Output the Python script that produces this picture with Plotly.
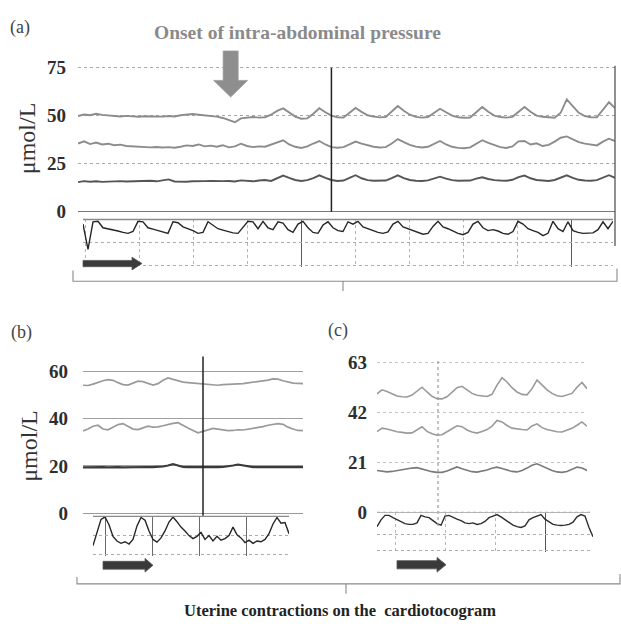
import plotly.graph_objects as go

W, H = 621, 634

# ---------------- panel (a): lactate (umol/L) and uterine pressure ----------------
a_ticks = [0, 25, 50, 75]
a_onset = 25.3          # sample index where intra-abdominal pressure starts
a_marker = 42           # sample index of the vertical reference line

a_upper = [49.8, 50.6, 50.2, 51.0, 50.4, 50.1, 49.8, 49.6, 49.9, 49.5,
           49.4, 49.7, 49.6, 49.3, 49.5, 49.8, 49.6, 50.2, 50.6, 50.9,
           50.5, 50.3, 49.9, 49.5, 48.8, 47.5, 46.6, 48.6, 48.9, 49.3,
           49.0, 49.2, 50.5, 52.5, 53.8, 51.5, 49.5, 48.4, 48.6, 51.0,
           53.9, 51.8, 50.0, 49.2, 49.0, 51.5, 54.0, 52.0, 50.2, 49.5,
           49.1, 49.3, 52.0, 55.0, 52.6, 50.5, 49.4, 49.0, 49.3, 51.5,
           53.6, 51.8, 50.0, 49.2, 48.9, 49.0, 51.5, 54.5, 52.0, 50.0,
           49.3, 49.0, 49.4, 52.0, 54.5, 52.0, 50.0, 49.4, 49.0, 48.9,
           51.5, 58.5, 55.0, 51.5, 49.8, 49.2, 49.1, 53.0, 57.0, 54.0]
a_middle = [35.5, 36.6, 35.2, 36.0, 35.0, 35.4, 34.6, 34.9, 34.2, 34.0,
            33.8, 33.9, 33.5, 33.7, 33.4, 33.6, 33.3, 33.8, 34.5, 34.2,
            35.0, 34.0, 34.4, 33.8, 34.6, 33.5, 34.0, 35.4, 34.2, 33.6,
            34.0, 33.8, 35.0, 35.8, 37.2, 35.0, 33.8, 33.2, 34.0, 35.5,
            36.8, 35.0, 33.6, 33.3, 33.6, 35.0, 36.5, 35.4, 34.5, 33.8,
            33.4, 33.6, 35.5, 37.8, 36.2, 34.8, 33.9, 33.4, 33.8, 35.5,
            36.8, 35.0, 33.8, 33.2, 33.0, 33.5, 35.5, 37.2, 35.8, 34.6,
            33.6, 33.2, 34.0, 36.6, 36.8, 35.0, 35.6, 34.2, 34.8, 36.5,
            38.5, 39.2, 37.6, 36.2, 35.4, 34.8, 34.5, 36.5, 38.0, 36.8]
a_lower = [15.4, 15.9, 15.6, 15.8, 15.5, 15.7, 15.6, 15.9, 15.7, 15.8,
           16.0, 15.9, 16.1, 15.8, 16.4, 16.8, 15.7, 15.5, 15.6, 15.8,
           15.7, 15.9, 16.0, 15.8, 15.9, 16.0, 15.7, 16.3, 16.0, 15.8,
           16.2, 16.5, 16.0, 17.4, 18.8, 17.6, 16.5, 16.0, 16.4, 17.5,
           18.9, 17.6, 16.5, 16.0, 16.2, 17.6, 19.0, 17.4, 16.4, 16.1,
           16.0, 16.2, 17.5, 18.9, 17.5, 16.5, 16.1, 16.0, 16.3, 17.4,
           18.2, 17.2, 16.4, 16.1, 16.0, 16.2, 17.2, 17.9, 17.0, 16.4,
           16.2, 16.1, 16.6, 18.0, 18.8, 17.4, 16.5, 16.2, 16.0, 16.5,
           17.6, 18.9, 17.6, 16.6, 16.2, 16.1, 16.4, 17.8, 19.0, 17.6]
a_ctg = [90, 35, 95, 96, 82, 80, 77, 75, 72, 70,
         74, 96, 95, 82, 79, 76, 72, 70, 95, 93,
         84, 80, 76, 70, 72, 95, 88, 80, 77, 74,
         71, 70, 82, 96, 95, 80, 96, 82, 78, 95,
         92, 78, 72, 90, 96, 82, 72, 70, 88, 95,
         82, 76, 74, 95, 90, 96, 84, 80, 75, 72,
         70, 73, 90, 96, 84, 80, 76, 72, 68, 70,
         85, 96, 84, 80, 75, 70, 67, 72, 90, 96,
         82, 76, 78, 75, 70, 68, 74, 96, 90, 80,
         76, 72, 65, 70, 96, 80, 74, 95, 76, 72,
         70, 70, 71, 78, 95, 80, 96]

# ---------------- panel (b) ----------------
b_ticks = [0, 20, 40, 60]
b_marker = 24
b_upper = [54.1, 54.0, 54.6, 55.4, 56.0, 56.5, 56.2, 55.2, 54.4, 54.2,
           55.0, 55.8, 55.6, 54.8, 54.2, 54.8, 56.2, 57.2, 56.6, 55.8,
           55.4, 55.2, 55.0, 54.6, 54.4, 54.2, 54.0, 54.1, 54.4, 54.5,
           54.6, 54.5, 54.8, 55.1, 55.4, 55.6, 55.8, 56.3, 56.8, 56.7,
           56.0, 55.4, 55.0, 54.9, 54.8]
b_middle = [34.8, 35.6, 36.8, 37.2, 35.6, 35.3, 36.4, 37.5, 37.9, 36.6,
            35.6, 35.4, 36.2, 36.8, 36.4, 36.5, 37.0, 37.6, 38.0, 38.3,
            37.0, 36.0, 35.0, 34.0, 34.6, 35.4, 35.9, 35.6, 35.2, 34.9,
            35.0, 35.3, 35.2, 35.5, 35.9, 36.2, 36.6, 37.2, 37.6, 37.9,
            37.6, 36.4, 35.6, 35.0, 34.9]
b_lower = [19.4, 19.5, 19.3, 19.4, 19.5, 19.4, 19.6, 19.5, 19.4, 19.5,
           19.6, 19.5, 19.7, 19.6, 19.5, 19.6, 19.8, 20.2, 20.8, 20.2,
           19.6, 19.5, 19.4, 19.5, 19.6, 19.5, 19.4, 19.5, 19.6, 19.8,
           20.2, 20.6, 20.3, 19.8, 19.5, 19.6, 19.5, 19.4, 19.5, 19.6,
           19.5, 19.4, 19.5, 19.6, 19.5]
b_ctg = [24, 55, 92, 98, 78, 48, 36, 30, 34, 28,
         40, 75, 97, 90, 62, 40, 33, 44, 62, 85,
         98, 86, 72, 62, 50, 42, 48, 58, 40, 50,
         36, 48, 38, 42, 50, 72, 52, 44, 32, 38,
         30, 36, 34, 40, 55, 80, 97, 82, 84, 55]

# ---------------- panel (c) ----------------
c_ticks = [0, 21, 42, 63]
c_marker = 12.2
c_upper = [49.8, 51.5, 50.8, 49.8, 48.9, 48.6, 48.5, 49.3, 51.0, 52.6,
           50.6, 48.8, 47.8, 47.7, 48.6, 50.4, 52.4, 53.0, 51.6, 50.0,
           49.2, 48.8, 48.7, 49.6, 53.5, 56.6, 54.8, 52.4, 50.6, 49.6,
           49.4, 52.0, 55.6, 53.6, 51.5, 50.0, 49.0, 48.7, 49.4, 50.0,
           52.6, 54.6, 52.0]
c_middle = [33.9, 35.4, 35.0, 34.4, 33.9, 33.6, 33.3, 33.4, 34.6, 36.0,
            34.0, 33.0, 32.4, 32.6, 33.9, 35.2, 36.4, 36.0, 34.6, 33.8,
            33.3, 34.0, 34.8, 36.2, 38.6, 38.0, 36.5, 35.4, 35.0, 34.8,
            34.6, 36.3, 37.2, 35.6, 34.8, 34.2, 33.9, 33.8, 34.6, 35.3,
            36.6, 38.0, 36.2]
c_lower = [17.6, 17.2, 17.0, 17.2, 17.6, 17.8, 18.2, 18.6, 18.8, 18.2,
           17.6, 17.1, 16.8, 16.8, 17.4, 18.3, 19.1, 18.3, 17.6, 17.1,
           16.9, 17.2, 17.8, 18.5, 19.0, 18.4, 17.8, 17.2, 17.0, 17.6,
           18.6, 19.8, 20.4, 19.4, 18.4, 17.6, 17.0, 16.8, 17.2, 18.0,
           19.0, 18.6, 17.6]
c_ctg = [62, 80, 92, 92, 86, 80, 74, 70, 68, 68,
         72, 92, 88, 86, 78, 70, 66, 90, 92, 86,
         82, 78, 72, 70, 72, 68, 70, 76, 86, 90,
         94, 88, 80, 72, 66, 62, 60, 64, 80, 86,
         90, 94, 82, 74, 68, 66, 65, 66, 68, 74,
         88, 94, 90, 60, 35]

# ---------------- helpers: pixel -> paper ----------------
def px(x):
    return x / W


def py(y):
    return 1 - y / H


def xdom(left, right):
    return [px(left), px(right)]


def ydom(top, bottom):
    return [py(bottom), py(top)]


SERIF = "Liberation Serif, Times New Roman, serif"
tick_font = dict(family=SERIF, size=19, color="#2e2e2e", weight="bold")

fig = go.Figure()


def idx(series):
    return list(range(len(series)))


def add_line(series, xa, ya, color, width):
    fig.add_trace(go.Scatter(x=idx(series), y=series, xaxis=xa, yaxis=ya,
                             mode="lines", line=dict(color=color, width=width),
                             hoverinfo="skip", showlegend=False))


# panel (a)
add_line(a_upper, "x", "y", "#8c8c8c", 1.9)
add_line(a_middle, "x", "y", "#8c8c8c", 1.9)
add_line(a_lower, "x", "y", "#555555", 1.9)
add_line(a_ctg, "x2", "y2", "#262626", 1.4)
# panel (b)
add_line(b_upper, "x3", "y3", "#9a9a9a", 1.7)
add_line(b_middle, "x3", "y3", "#9a9a9a", 1.7)
add_line(b_lower, "x3", "y3", "#3a3a3a", 2.1)
add_line(b_ctg, "x4", "y4", "#262626", 1.4)
# panel (c)
add_line(c_upper, "x5", "y5", "#9a9a9a", 1.6)
add_line(c_middle, "x5", "y5", "#9a9a9a", 1.6)
add_line(c_lower, "x5", "y5", "#7a7a7a", 1.6)
add_line(c_ctg, "x6", "y6", "#2e2e2e", 1.4)

hidden_x = dict(showticklabels=False, ticks="", zeroline=False, showline=False,
                showgrid=False, fixedrange=True)


def lactate_y(dom, rng, ticks, standoff, gridcolor, griddash, zerocolor):
    return dict(domain=dom, range=rng, tickmode="array", tickvals=ticks,
                ticktext=[str(t) for t in ticks], tickfont=tick_font,
                ticks="", ticklabelstandoff=standoff, showgrid=True,
                gridcolor=gridcolor, gridwidth=1, griddash=griddash,
                zeroline=True, zerolinecolor=zerocolor, zerolinewidth=1.3,
                showline=False, fixedrange=True)


def ctg_y(dom, ticks, dash):
    return dict(domain=dom, range=[-4, 100], tickmode="array", tickvals=ticks,
                showticklabels=False, ticks="", showgrid=True,
                gridcolor="#ababab", gridwidth=1, griddash=dash,
                zeroline=False, showline=False, fixedrange=True)


layout = dict(
    width=W, height=H, margin=dict(l=0, r=0, t=0, b=0),
    paper_bgcolor="white", plot_bgcolor="rgba(0,0,0,0)", showlegend=False,
    font=dict(family=SERIF, color="#333"),
    # (a) lactate
    xaxis=dict(hidden_x, domain=xdom(78, 615), range=[0, len(a_upper) - 1], anchor="y"),
    yaxis=lactate_y(ydom(212 - 78 * 1.96, 212 + 1.96), [-1, 78], a_ticks, 11,
                    "#a8a8a8", "dot", "#7a7a7a"),
    # (a) cardiotocogram
    xaxis2=dict(hidden_x, domain=xdom(83, 613), range=[0, len(a_ctg) - 1], anchor="y2",
                showgrid=True, tickmode="linear", tick0=43.6, dtick=54,
                gridcolor="#5a5a5a", gridwidth=1.2,
                minor=dict(tickmode="linear", tick0=0.4, dtick=10.8, showgrid=True,
                           gridcolor="#b4b4b4", griddash="dot", gridwidth=1)),
    yaxis2=dict(ctg_y(ydom(220, 269), [0, 50], "dot"), anchor="x2"),
    # (b) lactate
    xaxis3=dict(hidden_x, domain=xdom(83, 303), range=[0, len(b_upper) - 1], anchor="y3"),
    yaxis3=dict(lactate_y(ydom(360, 522.4), [-1, 66.2], b_ticks, 14,
                          "#a0a0a0", "solid", "#9a9a9a"), anchor="x3"),
    # (b) cardiotocogram
    xaxis4=dict(hidden_x, domain=xdom(93, 289), range=[0, len(b_ctg) - 1], anchor="y4",
                showgrid=True, tickmode="linear", tick0=3, dtick=11.75,
                gridcolor="#6a6a6a", gridwidth=1),
    yaxis4=dict(ctg_y(ydom(523, 564), [0, 50], "dot"), anchor="x4"),
    # (c) lactate
    xaxis5=dict(hidden_x, domain=xdom(377, 587), range=[0, len(c_upper) - 1], anchor="y5"),
    yaxis5=dict(lactate_y(ydom(358.7, 521.4), [-1, 66], c_ticks, 9,
                          "#c4c4c4", "dot", "#b8b8b8"), anchor="x5"),
    # (c) cardiotocogram
    xaxis6=dict(hidden_x, domain=xdom(377, 593), range=[0, len(c_ctg) - 1], anchor="y6",
                showgrid=True, tickmode="linear", tick0=42, dtick=50,
                gridcolor="#555555", gridwidth=1.2,
                minor=dict(tickmode="linear", tick0=4.5, dtick=12.5, showgrid=True,
                           gridcolor="#b8b8b8", griddash="dot", gridwidth=1)),
    yaxis6=dict(ctg_y(ydom(519, 559), [0, 40], "dot"), anchor="x6"),
)
fig.update_layout(**layout)

shapes = []

# vertical reference lines
shapes.append(dict(type="line", xref="x", yref="y", x0=a_marker, x1=a_marker,
                   y0=0, y1=75, line=dict(color="#222", width=1.5)))
shapes.append(dict(type="line", xref="x domain", yref="paper", x0=1, x1=1,
                   y0=py(247), y1=py(63), line=dict(color="#555", width=1.3)))
shapes.append(dict(type="line", xref="x3", yref="y3 domain", x0=b_marker, x1=b_marker,
                   y0=0, y1=1, line=dict(color="#222", width=1.5)))
shapes.append(dict(type="line", xref="x5", yref="paper", x0=c_marker, x1=c_marker,
                   y0=py(533), y1=py(363), line=dict(color="#9a9a9a", width=1.2, dash="dot")))

# cardiotocogram upper borders
for xr, yr, col, dash in [("x2", "y2", "#8a8a8a", "solid"),
                          ("x4", "y4", "#8a8a8a", "solid"),
                          ("x6", "y6", "#b0b0b0", "dot")]:
    shapes.append(dict(type="line", xref=xr + " domain", yref=yr + " domain",
                       x0=0, x1=1, y0=1, y1=1, line=dict(color=col, width=1.3, dash=dash)))

# onset arrow (grey, pointing down at the onset sample)
ax_per_px = (len(a_upper) - 1) / (615 - 78)
hs, hh = 7.5 * ax_per_px, 17 * ax_per_px
o = a_onset
arrow_path = (f"M {o - hs},{py(48)} L {o + hs},{py(48)} L {o + hs},{py(78)} "
              f"L {o + hh},{py(78)} L {o},{py(95)} L {o - hh},{py(78)} "
              f"L {o - hs},{py(78)} Z")
shapes.append(dict(type="path", xref="x", yref="paper", path=arrow_path,
                   fillcolor="#8e8e8e", line=dict(color="#9a9a9a", width=0.8)))


# time-direction arrows under each cardiotocogram
def dir_arrow(x0, x1, xh, yc, half_body, half_head):
    return (f"M {px(x0)},{py(yc - half_body)} L {px(xh)},{py(yc - half_body)} "
            f"L {px(xh)},{py(yc - half_head)} L {px(x1)},{py(yc)} "
            f"L {px(xh)},{py(yc + half_head)} L {px(xh)},{py(yc + half_body)} "
            f"L {px(x0)},{py(yc + half_body)} Z")


for args in [(83, 142, 132, 265, 3.2, 6.5),
             (103, 153, 145, 573, 4, 7),
             (397, 446, 437, 572.5, 4.2, 7.5)]:
    shapes.append(dict(type="path", xref="paper", yref="paper", path=dir_arrow(*args),
                       fillcolor="#3a3a3a", line=dict(color="#555", width=0.8)))


# braces grouping the cardiotocograms
def brace(xl, xr, yl, yr, yb, xc, ytick):
    return (f"M {px(xl)},{py(yl)} L {px(xl)},{py(yb)} L {px(xr)},{py(yb)} "
            f"L {px(xr)},{py(yr)} M {px(xc)},{py(yb)} L {px(xc)},{py(ytick)}")


shapes.append(dict(type="path", xref="paper", yref="paper",
                   path=brace(73, 617, 272, 270, 283, 343, 293),
                   line=dict(color="#8a8a8a", width=1.1)))
shapes.append(dict(type="path", xref="paper", yref="paper",
                   path=brace(77, 620, 585, 582, 592, 346, 602),
                   line=dict(color="#8a8a8a", width=1.1)))

fig.update_layout(shapes=shapes)

# texts
ann = []


def text(x, y, s, size, color="#333", bold=False, angle=0):
    ann.append(dict(x=px(x), y=py(y), xref="paper", yref="paper", text=s,
                    showarrow=False, textangle=angle, xanchor="center", yanchor="middle",
                    font=dict(family=SERIF, size=size, color=color,
                              weight="bold" if bold else "normal")))


text(20, 24, "(a)", 18, "#444")
text(21, 335, "(b)", 18, "#444")
text(338, 333, "(c)", 18, "#444")
text(297, 29, "Onset of intra-abdominal pressure", 19.5, "#8a8a8a", bold=True)
text(27, 137, "μmol/L", 24, "#333", angle=-90)
text(29, 451, "μmol/L", 24, "#333", angle=-90)
text(340, 619, "Uterine contractions on the  cardiotocogram", 16.5, "#222", bold=True)

fig.update_layout(annotations=ann)

fig.write_html("out.html")
